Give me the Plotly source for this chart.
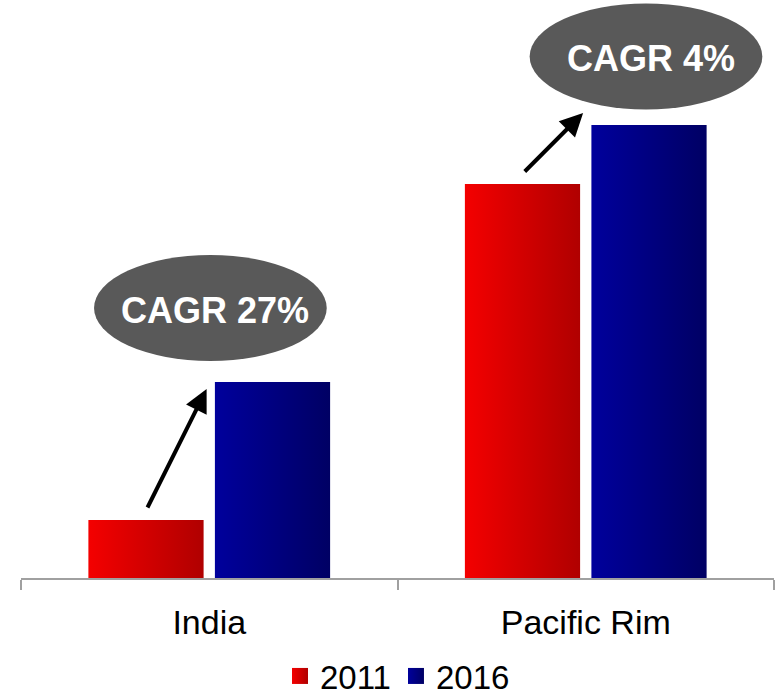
import plotly.graph_objects as go

# Data
categories = ["India", "Pacific Rim"]
years = ["2011", "2016"]
values_2011 = [58, 394]
values_2016 = [196, 453]
cagr_labels = ["CAGR 27%", "CAGR 4%"]

series = [
    (years[0], values_2011, ("#f40000", "#b00000")),
    (years[1], values_2016, ("#00009c", "#000064")),
]

# Bar geometry (in category units)
BAR_W = 0.306
OFFSETS = [-0.168, 0.168]

FONT = "Arial, Liberation Sans, sans-serif"

fig = go.Figure()

for s, (name, vals, (c0, c1)) in enumerate(series):
    for i, v in enumerate(vals):
        xc = i + OFFSETS[s]
        x0, x1 = xc - BAR_W / 2, xc + BAR_W / 2
        fig.add_trace(go.Scatter(
            x=[x0, x1, x1, x0, x0],
            y=[0, 0, v, v, 0],
            mode="lines",
            line=dict(width=0),
            fill="toself",
            fillgradient=dict(type="horizontal", colorscale=[[0, c0], [1, c1]]),
            legendgroup=name,
            showlegend=False,
            name=name,
            hoverinfo="skip",
        ))
    # legend entry
    fig.add_trace(go.Scatter(
        x=[None], y=[None],
        mode="markers",
        marker=dict(symbol="square", size=16, color=c0,
                    gradient=dict(type="horizontal", color=c1),
                    line=dict(width=0)),
        name=name,
        legendgroup=name,
        showlegend=True,
    ))

# CAGR ellipses with labels, placed above each category's bars
ELL_HW = 0.309
ELL_HH = 53
ell_pos = [(0.003, values_2016[0] + 74), (1.16, values_2016[1] + 68.5)]
for (ex, ey), label in zip(ell_pos, cagr_labels):
    fig.add_shape(type="circle", xref="x", yref="y",
                  x0=ex - ELL_HW, x1=ex + ELL_HW, y0=ey - ELL_HH, y1=ey + ELL_HH,
                  fillcolor="#595959", line=dict(width=0), layer="above")
    fig.add_annotation(x=ex + 0.012, y=ey - 2, xref="x", yref="y", text=f"<b>{label}</b>",
                       showarrow=False, font=dict(family=FONT, size=36, color="white"))

# Growth arrows from the 2011 bar to the 2016 bar
for i in range(len(categories)):
    tail_x = i + OFFSETS[0] + 0.002
    tail_y = values_2011[i] + 11
    tip_x = i + OFFSETS[1] - BAR_W / 2 - 0.022
    tip_y = values_2016[i] + (-7 if i == 0 else 12)
    fig.add_annotation(x=tip_x, y=tip_y, ax=tail_x, ay=tail_y,
                       xref="x", yref="y", axref="x", ayref="y",
                       text="", showarrow=True, arrowhead=2, arrowsize=1.15,
                       arrowwidth=4, arrowcolor="black", standoff=0, startstandoff=0)

fig.update_layout(
    width=775, height=695,
    margin=dict(l=21, r=1, t=0, b=117, autoexpand=False),
    plot_bgcolor="white", paper_bgcolor="white",
    font=dict(family=FONT, color="black"),
    showlegend=True,
    legend=dict(orientation="h", x=0.5, xanchor="center",
                yref="container", y=(695 - 676) / 695, yanchor="middle",
                font=dict(family=FONT, size=33), itemwidth=30, tracegroupgap=0,
                bgcolor="rgba(0,0,0,0)"),
    xaxis=dict(
        range=[-0.5, 1.5], tickmode="array", tickvals=[0, 1], ticktext=categories,
        ticks="", showgrid=False, zeroline=False,
        showline=True, linecolor="#a0a0a0", linewidth=2,
        tickfont=dict(family=FONT, size=34, color="black"),
        ticklabelstandoff=13,
        minor=dict(tickmode="array", tickvals=[-0.5, 0.5, 1.5], ticks="outside",
                   ticklen=10, tickwidth=2, tickcolor="#a0a0a0", showgrid=False),
        fixedrange=True,
    ),
    yaxis=dict(range=[0, 578], visible=False, fixedrange=True),
)

fig.write_html("out.html")
